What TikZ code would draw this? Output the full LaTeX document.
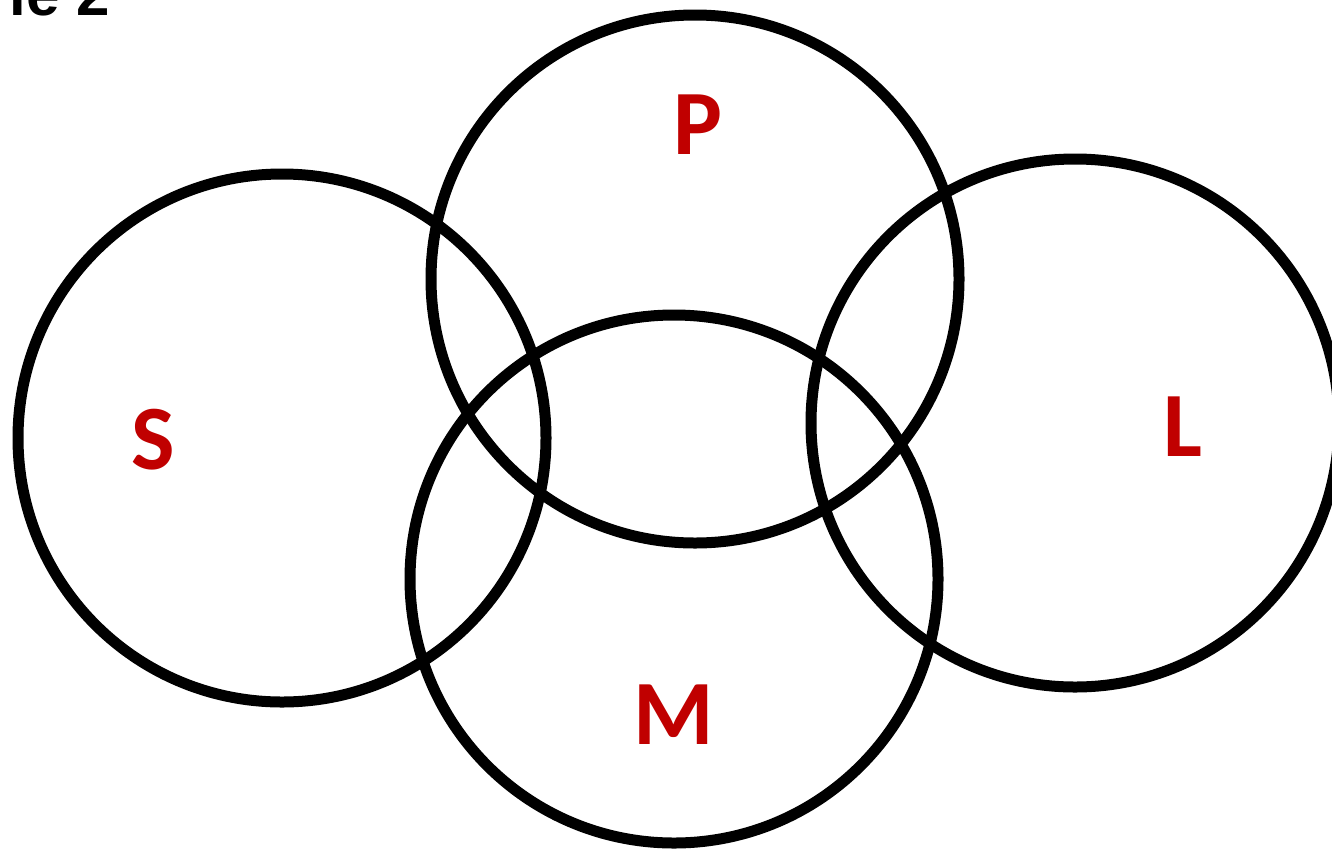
\documentclass[tikz,border=0pt]{standalone}
\usepackage{fontspec}
\setmainfont{Carlito}
\newfontfamily\arialfont{Liberation Sans}
\definecolor{lblred}{HTML}{C00000}
\begin{document}
\begin{tikzpicture}[x=1pt,y=-1pt,
  ring/.style={draw=black,line width=11pt},
  lbl/.style={text=lblred,font=\fontsize{92}{92}\selectfont\bfseries,inner sep=0pt},
  title/.style={font=\arialfont\fontsize{60}{60}\selectfont\bfseries,inner sep=0pt}]
\useasboundingbox (0,0) rectangle (1332,849);
\node[ring,circle,minimum size=528pt,inner sep=0pt] (S) at (282,438) {};
\node[ring,circle,minimum size=528pt,inner sep=0pt] (P) at (695,279) {};
\node[ring,circle,minimum size=528pt,inner sep=0pt] (L) at (1075,423) {};
\node[ring,circle,minimum size=528pt,inner sep=0pt] (M) at (674,579) {};
\node[lbl] (tS) at (153,440) {S};
\node[lbl] (tP) at (698,125) {P};
\node[lbl] (tL) at (1183,427) {L};
\node[lbl] (tM) at (674,715) {M};
\node[title,anchor=base east] (title) at (110,15) {le 2};
\end{tikzpicture}
\end{document}
